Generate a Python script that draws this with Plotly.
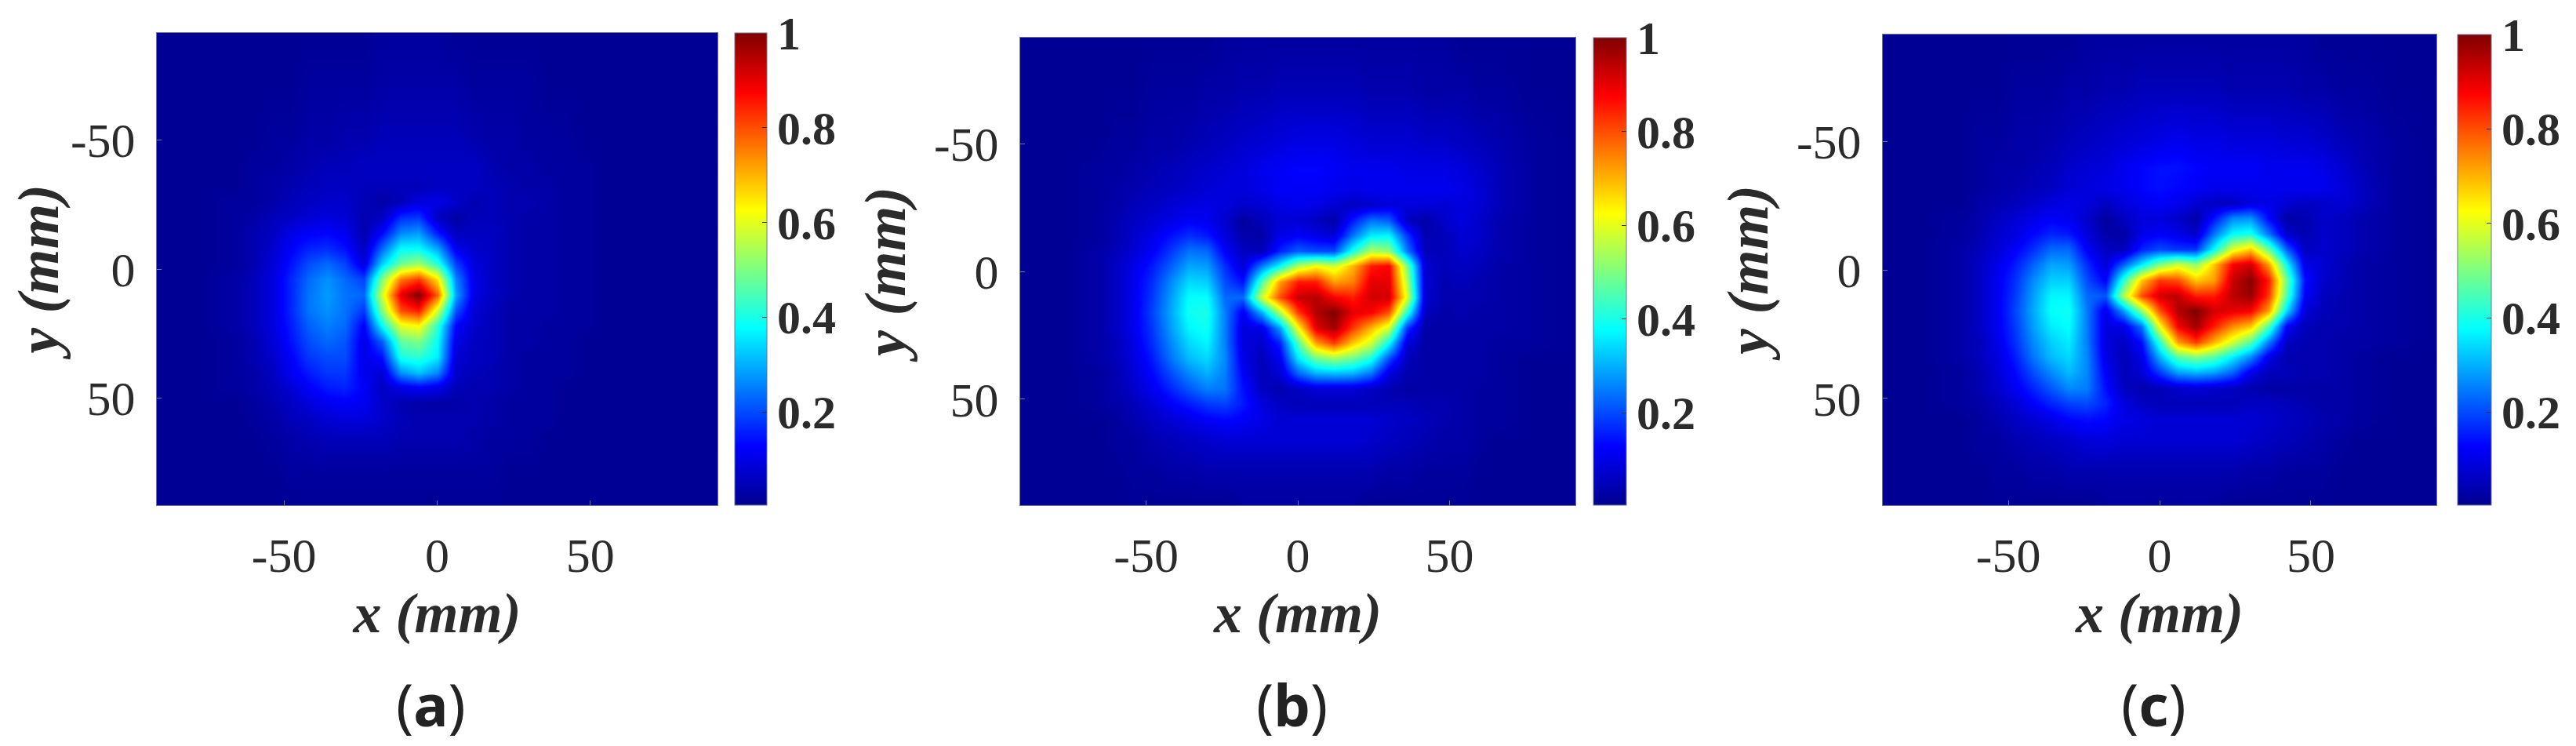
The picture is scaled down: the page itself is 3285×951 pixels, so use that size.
import numpy as np
import plotly.graph_objects as go

x_mm = [-91.5,-78,-66,-60,-54,-48,-42,-36,-30,-24,-18,-12,-6,0,6,12,18,24,30,36,42,48,54,60,66,78,91.5]
y_mm = [-91.5,-70,-50,-40,-32,-26,-20,-14,-8,-2,4,10,16,22,28,34,40,46,52,58,66,78,91.5]
tick_vals = [-50, 0, 50]
tick_text = ["-50", "0", "50"]
cbar_vals = [0.2, 0.4, 0.6, 0.8, 1]
cbar_text = ["0.2", "0.4", "0.6", "0.8", "1"]
panel_labels = ["(<b>a</b>)", "(<b>b</b>)", "(<b>c</b>)"]

# normalized intensity, in percent
field_a = [
[1,1,1,1,1,1,1,1,1,1,2,2,2,2,1,1,1,1,1,1,1,1,1,1,1,1,1],
[1,1,1,1,1,1,2,2,2,2,3,3,3,3,3,2,2,2,2,1,1,1,1,1,1,1,1],
[1,1,1,1,2,2,3,3,4,4,5,5,5,5,5,4,3,3,2,2,2,1,1,1,1,1,1],
[1,1,1,2,2,3,4,5,5,6,6,6,6,6,6,6,4,3,3,2,2,2,1,1,1,1,1],
[1,1,1,2,3,4,5,6,6,5,5,5,5,6,6,6,5,4,3,3,2,2,1,1,1,1,1],
[1,1,2,2,3,5,6,7,7,5,3,5,9,10,7,4,5,4,4,3,2,2,1,1,1,1,1],
[1,1,2,3,5,6,8,9,8,4,6,17,18,6,3,5,5,4,3,3,2,2,1,1,1,1,1],
[1,1,2,4,6,10,12,13,11,4,13,26,28,15,5,6,6,4,3,3,2,2,1,1,1,1,1],
[1,1,2,4,7,12,16,17,14,6,23,38,38,29,11,7,6,4,3,3,2,2,1,1,1,1,1],
[1,1,2,4,8,14,20,23,19,9,33,48,53,41,19,9,6,4,3,3,2,2,1,1,1,1,1],
[1,1,3,5,9,16,23,27,23,19,50,76,82,65,26,10,6,4,3,3,2,2,1,1,1,1,1],
[1,1,3,5,9,16,24,28,24,23,58,90,100,78,29,10,6,4,3,3,2,2,1,1,1,1,1],
[1,1,3,5,9,16,24,27,24,18,50,80,85,58,21,8,5,3,3,3,2,2,1,1,1,1,1],
[1,1,3,5,9,15,22,25,23,12,38,60,63,42,13,7,5,3,3,2,2,2,1,1,1,1,1],
[1,1,2,4,8,14,20,23,21,10,22,47,50,38,10,6,5,3,3,2,2,1,1,1,1,1,1],
[1,1,2,4,7,12,18,20,20,10,14,40,42,36,8,6,5,3,2,2,2,1,1,1,1,1,1],
[1,1,2,3,6,11,15,18,18,11,8,27,32,26,7,5,4,3,2,2,2,1,1,1,1,1,1],
[1,1,2,3,5,8,12,15,16,12,6,10,12,10,5,4,4,3,2,2,1,1,1,1,1,1,1],
[1,1,1,2,4,6,9,11,12,11,7,4,3,3,3,4,3,2,2,2,1,1,1,1,1,1,1],
[1,1,1,2,3,5,6,8,9,9,7,5,4,4,4,4,3,2,2,2,1,1,1,1,1,1,1],
[1,1,1,1,2,3,4,5,5,5,5,4,4,4,4,3,2,2,2,1,1,1,1,1,1,1,1],
[1,1,1,1,1,2,2,2,2,2,2,2,2,2,2,2,2,1,1,1,1,1,1,1,1,1,1],
[1,1,1,1,1,1,1,1,1,1,1,1,1,1,1,1,1,1,1,1,1,1,1,1,1,1,1],
]
field_b = [
[1,1,1,1,1,1,1,1,1,2,2,2,2,2,2,2,2,2,2,2,2,2,1,1,1,1,1],
[1,1,1,1,1,2,2,2,3,3,4,4,5,5,5,5,5,4,4,4,3,3,3,2,2,1,1],
[1,1,1,2,2,3,3,4,5,6,7,8,9,10,10,10,9,8,8,8,7,7,6,5,4,2,1],
[1,1,2,2,3,4,5,6,7,8,9,11,12,13,13,12,11,11,11,10,10,10,9,7,5,2,1],
[1,1,2,3,4,5,6,7,8,9,9,10,12,12,12,11,10,11,11,11,11,11,10,8,5,2,1],
[1,1,2,3,5,6,8,9,10,9,7,8,10,11,10,8,6,7,9,9,9,8,9,8,5,2,1],
[1,1,2,4,6,8,10,12,11,7,2,5,8,8,6,3,15,24,22,6,3,7,9,7,4,2,1],
[1,1,2,4,7,10,14,17,15,9,3,3,10,12,10,8,24,36,37,18,4,5,8,7,4,2,1],
[1,1,3,5,8,12,18,24,23,12,6,5,16,22,20,20,40,55,52,25,5,5,7,6,4,2,1],
[1,1,3,6,10,15,22,29,28,17,8,25,38,55,62,58,70,85,88,50,8,5,6,5,3,2,1],
[1,1,3,6,11,17,26,34,33,20,14,45,72,85,85,72,75,90,90,55,8,4,5,4,3,2,1],
[1,1,3,6,11,18,28,38,38,23,23,58,80,93,95,88,85,92,92,60,8,4,4,4,3,2,1],
[1,1,3,6,11,19,29,39,40,25,11,30,55,82,95,100,90,88,80,42,6,3,4,3,3,2,1],
[1,1,3,6,11,18,28,37,39,25,9,10,28,62,90,97,82,70,58,18,3,3,3,3,3,2,1],
[1,1,3,5,10,17,26,34,37,25,9,7,16,45,72,82,68,58,38,9,3,3,3,3,2,2,1],
[1,1,3,5,9,15,24,31,34,26,10,5,11,35,48,52,48,40,20,5,3,3,3,3,2,1,1],
[1,1,2,4,8,13,20,26,30,25,12,5,8,22,30,31,30,24,9,4,3,3,3,3,2,1,1],
[1,1,2,4,7,11,16,21,25,24,14,6,4,6,8,8,8,6,4,3,3,3,3,2,2,1,1],
[1,1,2,3,5,8,12,15,18,19,15,9,6,5,5,5,5,5,5,5,4,4,3,2,2,1,1],
[1,1,1,2,4,6,8,10,12,13,12,10,8,8,8,8,8,8,7,6,5,4,3,2,2,1,1],
[1,1,1,2,2,4,5,6,7,8,8,8,8,8,8,8,8,7,6,5,4,3,3,2,1,1,1],
[1,1,1,1,2,2,3,3,4,4,4,4,4,4,4,4,4,4,3,3,2,2,2,1,1,1,1],
[1,1,1,1,1,1,1,1,1,1,2,2,2,2,2,2,2,1,1,1,1,1,1,1,1,1,1],
]
field_c = [
[1,1,1,1,1,1,1,1,1,2,2,2,2,2,2,2,2,2,2,2,2,2,1,1,1,1,1],
[1,1,1,1,1,2,2,2,3,3,4,4,5,5,5,5,5,4,4,4,4,3,3,2,2,1,1],
[1,1,1,2,2,3,3,4,5,6,7,8,9,10,11,10,10,9,9,9,8,8,7,5,4,2,1],
[1,1,1,2,3,3,4,5,7,8,9,11,13,14,14,13,12,12,12,11,11,11,10,8,5,2,1],
[1,1,1,2,3,4,5,6,8,9,10,11,13,14,13,12,11,11,11,11,11,11,11,9,6,2,1],
[1,1,1,3,4,5,7,9,10,9,6,9,11,12,11,8,6,6,9,10,8,6,7,8,6,2,1],
[1,1,2,3,6,8,10,12,11,7,2,6,9,9,7,3,14,26,27,13,3,4,7,6,4,2,1],
[1,1,2,4,7,9,13,16,15,9,3,3,10,12,10,7,24,38,40,24,7,4,7,6,4,2,1],
[1,1,3,5,8,12,17,23,23,12,6,5,16,20,18,18,38,60,68,48,22,6,7,6,4,2,1],
[1,1,3,6,10,15,22,29,28,17,8,22,36,50,58,52,68,88,92,72,38,10,8,5,3,2,1],
[1,1,3,6,11,17,26,33,33,20,12,42,68,82,80,68,72,93,99,85,48,14,7,5,3,2,1],
[1,1,3,6,11,18,28,37,37,23,21,55,80,92,94,85,85,94,98,82,45,12,6,4,3,2,1],
[1,1,3,6,11,19,29,38,39,25,10,28,52,80,95,100,92,90,88,72,34,8,5,4,3,2,1],
[1,1,3,6,11,18,28,36,38,25,9,10,24,62,88,97,85,74,68,45,12,5,4,4,3,2,1],
[1,1,3,5,10,17,26,33,36,25,9,6,14,42,72,82,70,58,46,25,6,4,4,3,3,2,1],
[1,1,3,5,9,15,24,31,34,26,10,5,10,30,46,50,46,36,26,10,4,4,4,3,2,1,1],
[1,1,2,4,8,13,20,26,31,26,12,5,8,18,28,30,28,22,10,5,5,4,4,3,2,1,1],
[1,1,2,4,7,11,16,21,26,25,14,6,4,5,7,8,7,6,4,3,3,3,3,3,2,1,1],
[1,1,2,3,5,8,12,16,19,20,16,9,6,5,5,5,5,5,6,6,5,4,3,3,2,1,1],
[1,1,1,2,4,6,8,10,13,14,13,10,9,8,8,8,8,8,8,7,6,5,4,3,2,1,1],
[1,1,1,2,2,4,5,6,7,9,9,8,8,8,8,8,8,8,7,6,5,4,3,2,1,1,1],
[1,1,1,1,2,2,3,3,4,4,4,4,4,4,4,4,4,4,3,3,2,2,2,1,1,1,1],
[1,1,1,1,1,1,1,1,1,1,2,2,2,2,2,2,2,1,1,1,1,1,1,1,1,1,1],
]
fields = [field_a, field_b, field_c]

W, H = 3285, 951
# left, right, top, bottom of each panel and left, right of its colour bar, in figure pixels
panels = [
    (192, 907, 34, 636, 929, 970),
    (1293, 2001, 40, 636, 2024, 2066),
    (2393, 3099, 36, 636, 3126, 3169),
]
jet = [[0, "rgb(0,0,143)"], [0.125, "rgb(0,0,255)"], [0.375, "rgb(0,255,255)"],
       [0.625, "rgb(255,255,0)"], [0.875, "rgb(255,0,0)"], [1, "rgb(128,0,0)"]]
SERIF = "Liberation Serif"
INK = "#2b2b2b"
EDGE = "#6f7890"

fig = go.Figure()
layout = {}
for i, (field, p) in enumerate(zip(fields, panels)):
    l, r, t, b, cl, cr = p
    suffix = "" if i == 0 else str(i + 1)
    fig.add_trace(go.Heatmap(
        x=x_mm, y=y_mm, z=np.array(field) / 100, zsmooth="best",
        xaxis="x" + suffix, yaxis="y" + suffix,
        colorscale=jet, zmin=0.003, zmax=1, hoverinfo="skip",
        colorbar=dict(
            x=cl / W, xanchor="left", xref="paper",
            y=1 - t / H, yanchor="top", yref="paper",
            len=(b - t) / H, lenmode="fraction",
            thickness=cr - cl, thicknessmode="pixels",
            xpad=0, ypad=0, outlinewidth=1, outlinecolor=EDGE, borderwidth=0,
            tickmode="array", tickvals=cbar_vals, ticktext=cbar_text,
            ticks="inside", ticklen=6, tickwidth=1, tickcolor=INK,
            tickfont=dict(family=SERIF, size=60, color=INK, weight="bold"),
        ),
    ))
    layout["xaxis" + suffix] = dict(
        domain=[l / W, r / W], range=[-91.5, 91.5], anchor="y" + suffix,
        tickmode="array", tickvals=tick_vals, ticktext=tick_text,
        ticks="inside", ticklen=6, tickwidth=1, ticklabelstandoff=10,
        tickcolor=EDGE, showgrid=False, zeroline=False, mirror=True, showline=True,
        linecolor=EDGE, linewidth=1,
        tickfont=dict(family=SERIF, size=62, color=INK),
        title=dict(text="x (mm)", standoff=14,
                   font=dict(family=SERIF, size=72, color=INK, weight="bold", style="italic")),
    )
    layout["yaxis" + suffix] = dict(
        domain=[1 - b / H, 1 - t / H], range=[91.5, -91.5], anchor="x" + suffix,
        tickmode="array", tickvals=tick_vals, ticktext=tick_text,
        ticks="inside", ticklen=6, tickwidth=1, ticklabelstandoff=14,
        tickcolor=EDGE, showgrid=False, zeroline=False, mirror=True, showline=True,
        linecolor=EDGE, linewidth=1,
        tickfont=dict(family=SERIF, size=62, color=INK),
        title=dict(text="y (mm)", standoff=12,
                   font=dict(family=SERIF, size=74, color=INK, weight="bold", style="italic")),
    )

annotations = []
for label, p in zip(panel_labels, panels):
    annotations.append(dict(
        text=label, xref="paper", yref="paper", showarrow=False,
        x=((p[0] + p[1]) / 2 - 8) / W, y=1 - 889 / H, xanchor="center", yanchor="middle",
        font=dict(family="Noto Sans", size=74, color="#222222"),
    ))

fig.update_layout(
    width=W, height=H, margin=dict(l=0, r=0, t=0, b=0),
    paper_bgcolor="white", plot_bgcolor="white", annotations=annotations,
    **layout,
)
fig.write_html("out.html")
